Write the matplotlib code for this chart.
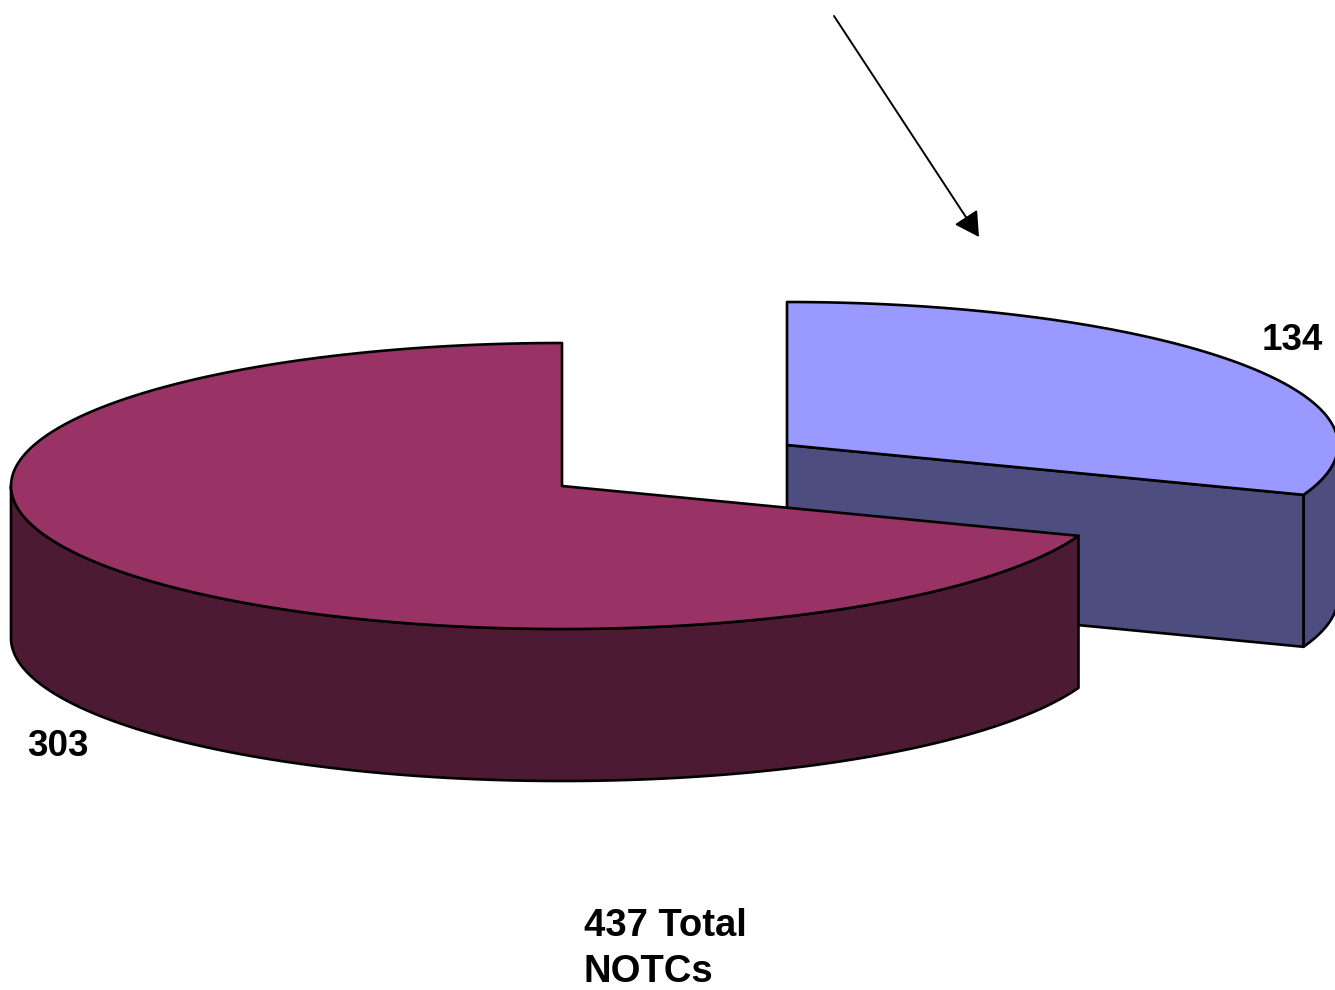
import numpy as np
import matplotlib
matplotlib.use('Agg')
import matplotlib.pyplot as plt
from matplotlib.patches import Polygon

values = [134, 303]
value_labels = ['134', '303']
total_label = '437 Total\nNOTCs'
top_colors = ['#9999FF', '#993366']
side_colors = ['#4D4D80', '#4D1A33']

rx, ry, depth = 551, 143, 152
centers = [(787, 445), (562, 486)]

plt.rcParams['font.family'] = ['Liberation Sans', 'DejaVu Sans']

fig = plt.figure(figsize=(13.35, 9.9), dpi=100)
ax = fig.add_axes([0, 0, 1, 1])
ax.set_xlim(0, 1335)
ax.set_ylim(990, 0)
ax.axis('off')


# angles run clockwise from twelve o'clock
def rim(cx, cy, a0, a1, n=300):
    t = np.linspace(a0, a1, n)
    return np.column_stack([cx + rx * np.sin(t), cy - ry * np.cos(t)])


def poly(pts, color, z):
    ax.add_patch(Polygon(pts, closed=True, facecolor=color, edgecolor='black', linewidth=1.9, zorder=z, joinstyle='round'))


sweep = [v / sum(values) * 2 * np.pi for v in values]

# blue slice, pulled out to the upper right
cx, cy = centers[0]
end = sweep[0]
edge = rim(cx, cy, np.pi / 2, end)
poly(np.vstack([edge, edge[::-1] + [0, depth]]), side_colors[0], 1)
a = rim(cx, cy, end, end, 1)[0]
poly([(cx, cy), a, a + [0, depth], (cx, cy + depth)], side_colors[0], 2)
poly(np.vstack([[(cx, cy)], rim(cx, cy, 0, end)]), top_colors[0], 3)

# red slice
cx, cy = centers[1]
edge = rim(cx, cy, end, 3 * np.pi / 2)
poly(np.vstack([edge, edge[::-1] + [0, depth]]), side_colors[1], 4)
poly(np.vstack([[(cx, cy)], rim(cx, cy, end, 2 * np.pi)]), top_colors[1], 5)

ax.text(1262, 341, value_labels[0], fontsize=26.5, fontweight='bold', va='center', ha='left', zorder=6)
ax.text(27, 747, value_labels[1], fontsize=26.5, fontweight='bold', va='center', ha='left', zorder=6)
ax.text(584, 949, total_label, fontsize=27.5, fontweight='bold', va='center', ha='left', linespacing=1.33, zorder=6)

ax.annotate('', xy=(979, 237), xytext=(834, 16),
            arrowprops=dict(arrowstyle='-|>,head_length=0.75,head_width=0.42', color='black', lw=1.4, shrinkA=0, shrinkB=0, mutation_scale=20), zorder=6)

fig.savefig('out.png', dpi=100, facecolor='white')
